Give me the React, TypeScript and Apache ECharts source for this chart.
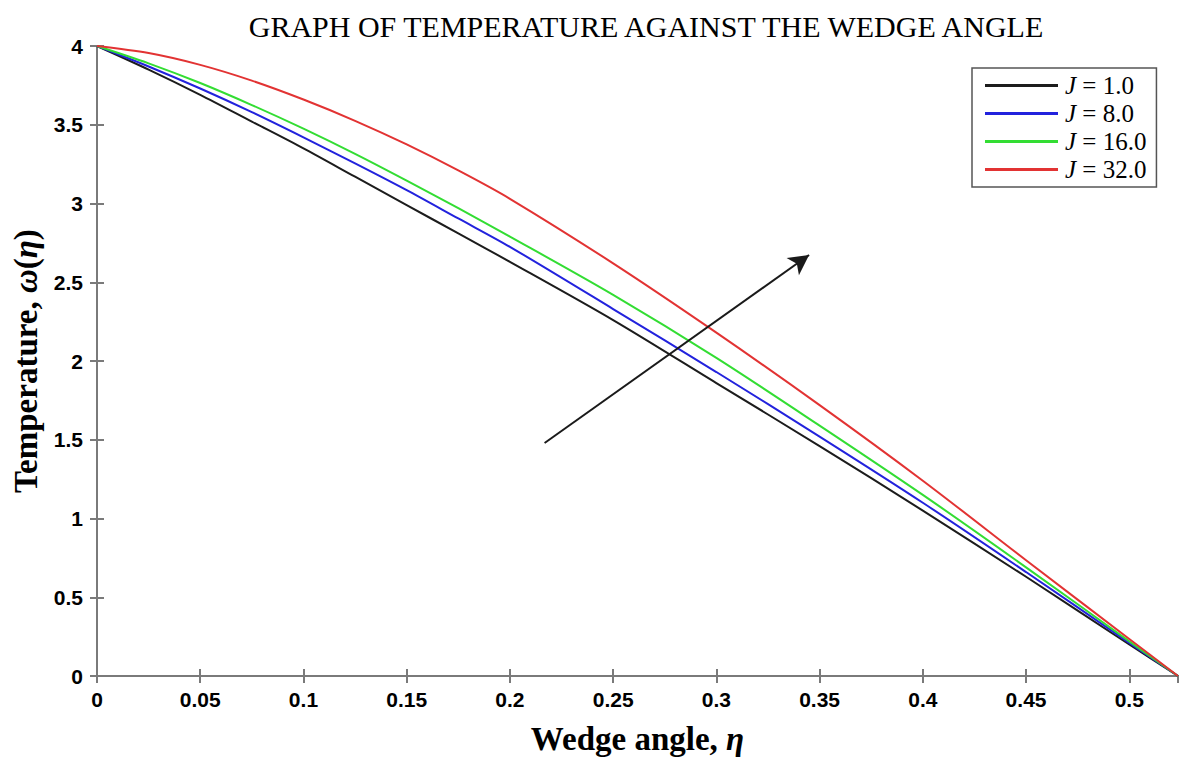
import React, { useEffect, useRef } from "react";
import * as echarts from "echarts";

const xValues = [0, 0.025, 0.05, 0.075, 0.1, 0.125, 0.15, 0.175, 0.2, 0.25, 0.3, 0.35, 0.4, 0.45, 0.5, Math.PI / 6];
const seriesNames = ["J = 1.0", "J = 8.0", "J = 16.0", "J = 32.0"];
const j1 = [4, 3.85, 3.69, 3.52, 3.35, 3.17, 2.99, 2.81, 2.63, 2.26, 1.86, 1.46, 1.05, 0.63, 0.2, 0];
const j8 = [4, 3.87, 3.73, 3.58, 3.42, 3.255, 3.085, 2.905, 2.725, 2.33, 1.93, 1.52, 1.1, 0.66, 0.21, 0];
const j16 = [4, 3.89, 3.765, 3.625, 3.475, 3.315, 3.145, 2.97, 2.79, 2.42, 2.02, 1.59, 1.15, 0.69, 0.22, 0];
const j32 = [4, 3.955, 3.88, 3.78, 3.66, 3.525, 3.375, 3.21, 3.03, 2.62, 2.18, 1.72, 1.24, 0.735, 0.235, 0];
const seriesValues = [j1, j8, j16, j32];
const seriesColors = ["#1c1c1c", "#2222dd", "#33dd33", "#e23333"];
const arrowStart = [0.2168, 1.479];
const arrowEnd = [0.3449, 2.673];

export default function App() {
  const ref = useRef<HTMLDivElement>(null);
  useEffect(() => {
    if (!ref.current) return;
    const chart = echarts.init(ref.current, null, { renderer: "svg" });
    const axisGray = "#7a7a7a";
    const serif = "Liberation Serif, Times New Roman";
    const tickLabel = { fontFamily: "Liberation Sans, Arial", fontWeight: "bold" as const, fontSize: 21, color: "#000" };
    const series: any[] = seriesValues.map((vals, i) => ({
      name: seriesNames[i],
      type: "line",
      data: xValues.map((x, k) => [x, vals[k]]),
      symbol: "none",
      smooth: 0.3,
      lineStyle: { color: seriesColors[i], width: 2 },
      itemStyle: { color: seriesColors[i] },
    }));
    series[0].markLine = {
      silent: true,
      symbol: ["none", "arrow"],
      symbolSize: [16, 20],
      label: { show: false },
      lineStyle: { color: "#1a1a1a", width: 2, type: "solid" },
      data: [[{ coord: arrowStart }, { coord: arrowEnd }]],
    };
    chart.setOption({
      animation: false,
      backgroundColor: "#fff",
      title: {
        text: "GRAPH OF TEMPERATURE AGAINST THE WEDGE ANGLE",
        left: 641,
        textAlign: "center",
        top: 6,
        textStyle: { fontFamily: serif, fontWeight: "normal", fontSize: 30, color: "#000" },
      },
      legend: {
        orient: "vertical",
        left: 972,
        top: 68,
        padding: [5, 10, 5, 13],
        icon: "rect",
        itemWidth: 73,
        itemHeight: 3,
        itemGap: 3,
        borderColor: "#555",
        borderWidth: 1.5,
        backgroundColor: "#fff",
        data: seriesNames,
        formatter: (name: string) => "{i|J}" + name.slice(1),
        textStyle: {
          fontFamily: serif,
          fontSize: 25,
          lineHeight: 24,
          color: "#000",
          padding: [0, 0, 0, 2],
          rich: {
            i: { fontFamily: serif, fontStyle: "italic", fontSize: 25, lineHeight: 24, color: "#000" },
          },
        },
      },
      grid: { left: 97, top: 46, width: 1081, height: 633 },
      xAxis: [
        {
          type: "value",
          min: 0,
          max: Math.PI / 6,
          interval: 0.05,
          position: "bottom",
          name: "{t|Wedge angle, }{i|η}",
          nameLocation: "middle",
          nameGap: 46,
          nameTextStyle: {
            rich: {
              t: { fontFamily: serif, fontWeight: "bold", fontSize: 33, color: "#000" },
              i: { fontFamily: serif, fontStyle: "italic", fontWeight: "bold", fontSize: 33, color: "#000" },
            },
          },
          axisLine: { show: true, lineStyle: { color: axisGray, width: 2 } },
          axisTick: { show: true, inside: true, length: 7, lineStyle: { color: axisGray, width: 2 } },
          axisLabel: { ...tickLabel, margin: 13, showMaxLabel: false, formatter: (v: number) => String(Math.round(v * 100) / 100) },
          splitLine: { show: false },
        },
        {
          type: "value",
          min: 0,
          max: Math.PI / 6,
          interval: 0.05,
          position: "top",
          axisLine: { show: true, lineStyle: { color: axisGray, width: 2 } },
          axisTick: { show: true, inside: true, length: 7, lineStyle: { color: axisGray, width: 2 } },
          axisLabel: { show: false },
          splitLine: { show: false },
        },
      ],
      yAxis: [
        {
          type: "value",
          min: 0,
          max: 4,
          interval: 0.5,
          position: "left",
          name: "{t|Temperature, }{i|ω}{t|(}{i|η}{t|)}",
          nameLocation: "middle",
          nameGap: 52,
          nameRotate: 90,
          nameTextStyle: {
            rich: {
              t: { fontFamily: serif, fontWeight: "bold", fontSize: 33, color: "#000" },
              i: { fontFamily: serif, fontStyle: "italic", fontWeight: "bold", fontSize: 33, color: "#000" },
            },
          },
          axisLine: { show: true, lineStyle: { color: axisGray, width: 2 } },
          axisTick: { show: true, inside: true, length: 7, lineStyle: { color: axisGray, width: 2 } },
          axisLabel: { ...tickLabel, margin: 14 },
          splitLine: { show: false },
        },
        {
          type: "value",
          min: 0,
          max: 4,
          interval: 0.5,
          position: "right",
          axisLine: { show: true, lineStyle: { color: axisGray, width: 2 } },
          axisTick: { show: true, inside: true, length: 7, lineStyle: { color: axisGray, width: 2 } },
          axisLabel: { show: false },
          splitLine: { show: false },
        },
      ],
      series,
    });
    return () => chart.dispose();
  }, []);
  return <div ref={ref} style={{ position: "fixed", left: 0, top: 0, width: 1181, height: 760 }} />;
}
